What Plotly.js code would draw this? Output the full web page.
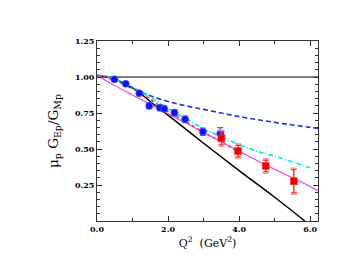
<!DOCTYPE html>
<html><head><meta charset="utf-8">
<script src="https://cdn.plot.ly/plotly-3.0.1.min.js"></script>
<style>html,body{margin:0;padding:0;background:#fff}#c{width:353px;height:273px}</style>
</head><body><div id="c"></div>
<script>
// Data
const blueQ2 = [0.49, 0.81, 1.19, 1.47, 1.77, 1.89, 2.18, 2.48, 2.98, 3.47];
const blueR  = [0.984, 0.953, 0.887, 0.80, 0.787, 0.78, 0.752, 0.706, 0.62, 0.609];
const blueErr = [0.012, 0.012, 0.015, 0.022, 0.02, 0.02, 0.022, 0.022, 0.025, 0.04];

const redQ2 = [3.50, 3.97, 4.75, 5.54];
const redR  = [0.574, 0.486, 0.382, 0.276];
const redErrStat = [0.045, 0.04, 0.04, 0.08];
const redErrTot  = [0.055, 0.05, 0.05, 0.09];

const curveQ2 = [0, 0.25, 0.5, 1, 1.5, 2, 2.5, 3, 3.5, 4, 4.5, 5, 5.5, 6, 6.25];
const dashedR = [1.01, 1.005, 0.98, 0.92, 0.87, 0.83, 0.80, 0.775, 0.75, 0.725, 0.705, 0.685, 0.667, 0.65, 0.642];
const magentaR = [1.01, 0.975, 0.94, 0.875, 0.81, 0.745, 0.68, 0.615, 0.55, 0.485, 0.42, 0.36, 0.30, 0.24, 0.205];

const cyanQ2 = [0, 0.25, 0.5, 1, 1.5, 2, 2.5, 3, 3.5, 4, 4.5, 5, 5.5, 6.0];
const cyanR  = [1.01, 1.005, 0.985, 0.93, 0.86, 0.78, 0.71, 0.64, 0.585, 0.53, 0.485, 0.45, 0.41, 0.37];

const dotQ2 = [0, 0.5, 1, 1.5, 2, 2.5, 3, 3.5, 4.0];
const dotR  = [1.01, 0.98, 0.925, 0.845, 0.76, 0.69, 0.615, 0.55, 0.475];

const blackQ2 = [0, 0.5, 1.0, 1.2, 1.5, 2, 3, 4, 5, 5.85];
const blackR  = [1.01, 0.985, 0.925, 0.89, 0.83, 0.735, 0.54, 0.35, 0.165, 0.0];

const xTicks = [0, 2, 4, 6];
const xTickText = ['0.0', '2.0', '4.0', '6.0'];
const yTicks = [0.25, 0.5, 0.75, 1.0, 1.25];
const yTickText = ['0.25', '0.50', '0.75', '1.00', '1.25'];

const traces = [
  {x: [0, 6.22], y: [1, 1], mode: 'lines', line: {color: '#000', width: 1}, hoverinfo: 'skip'},
  {x: blackQ2, y: blackR, mode: 'lines', line: {color: '#000', width: 1.5, shape: 'spline'}},
  {x: curveQ2, y: dashedR, mode: 'lines', line: {color: '#1f2fe0', width: 1.6, dash: '5px,3px', shape: 'spline'}},
  {x: cyanQ2, y: cyanR, mode: 'lines', line: {color: '#00e0f0', width: 1.6, dash: '5px,2px,1px,2px', shape: 'spline'}},
  {x: dotQ2, y: dotR, mode: 'lines', line: {color: '#ff2020', width: 1.5, dash: 'dot', shape: 'spline'}},
  {x: curveQ2, y: magentaR, mode: 'lines', line: {color: '#ff33dd', width: 1.1, shape: 'spline'}},
  {x: blueQ2, y: blueR, mode: 'markers',
   marker: {symbol: 'circle', size: 7, color: '#1010ee', line: {color: '#3a5aff', width: 0.8}},
   error_y: {type: 'data', array: blueErr, color: '#5a5aff', thickness: 1.2, width: 3}},
  {x: redQ2, y: redR, mode: 'markers', marker: {size: 0.1, color: 'rgba(0,0,0,0)'},
   error_y: {type: 'data', array: redErrTot, color: '#ff9a9a', thickness: 1.5, width: 3}},
  {x: redQ2, y: redR, mode: 'markers',
   marker: {symbol: 'square', size: 7, color: '#ee0000', line: {color: '#ff3030', width: 0.5}},
   error_y: {type: 'data', array: redErrStat, color: '#ee2020', thickness: 1, width: 3}}
];

const tickFont = {family: 'DejaVu Serif, serif', size: 8, color: '#000'};
const layout = {
  width: 353, height: 273,
  margin: {l: 97, r: 35, t: 41, b: 52},
  paper_bgcolor: '#fff', plot_bgcolor: '#fff',
  showlegend: false,
  xaxis: {
    range: [0, 6.22], tickvals: xTicks, ticktext: xTickText, ticks: 'inside', ticklen: 5,
    tickcolor: '#333', linecolor: '#333', linewidth: 1, mirror: 'allticks', showgrid: false, zeroline: false,
    minor: {dtick: 1, ticks: 'inside', ticklen: 3, tickcolor: '#333', showgrid: false},
    tickfont: Object.assign({weight: 'bold'}, tickFont),
    title: {text: 'Q<sup>2</sup>  (GeV<sup>2</sup>)', font: {family: 'DejaVu Serif, serif', size: 11, color: '#000'}, standoff: 6}
  },
  yaxis: {
    range: [0, 1.25], tickvals: yTicks, ticktext: yTickText, ticks: 'inside', ticklen: 5,
    tickcolor: '#333', linecolor: '#333', linewidth: 1, mirror: 'allticks', showgrid: false, zeroline: false,
    minor: {dtick: 0.05, ticks: 'inside', ticklen: 3, tickcolor: '#333', showgrid: false},
    tickfont: Object.assign({weight: 'bold'}, tickFont),
    title: {text: 'μ<sub>p</sub> G<sub>Ep</sub>/G<sub>Mp</sub>', font: {family: 'DejaVu Serif, serif', size: 13.5, color: '#000'}, standoff: 13}
  }
};
Plotly.newPlot('c', traces, layout, {displayModeBar: false, staticPlot: true});
</script>
</body></html>
